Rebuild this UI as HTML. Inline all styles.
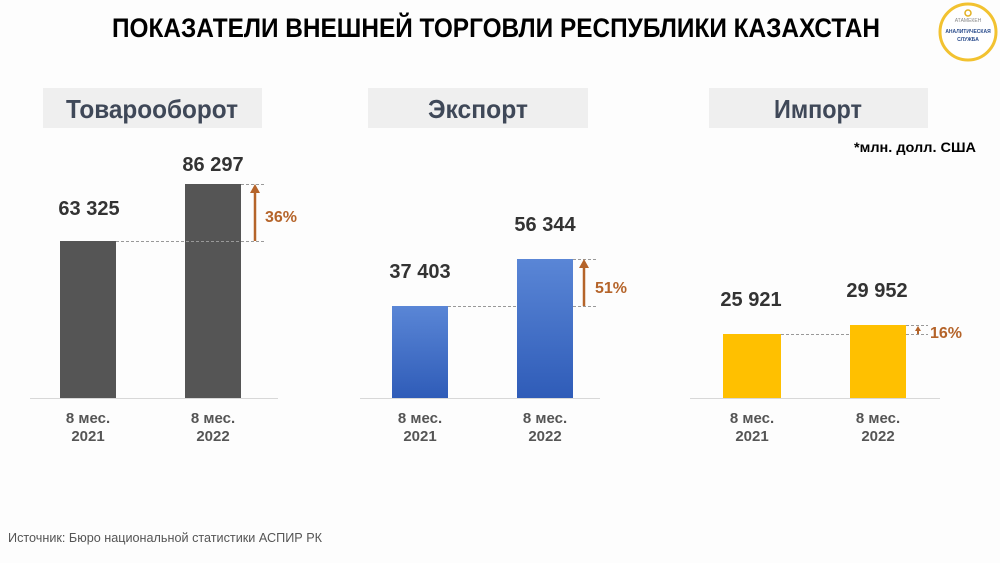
<!DOCTYPE html>
<html><head><meta charset="utf-8"><style>
html,body{margin:0;padding:0;background:#fdfdfd;}
svg{display:block;font-family:"Liberation Sans",Arial,sans-serif;}
</style></head><body>
<svg width="1000" height="563" viewBox="0 0 1000 563" xmlns="http://www.w3.org/2000/svg">
<defs>
<linearGradient id="bl" x1="0" y1="0" x2="0" y2="1"><stop offset="0" stop-color="#5a86d6"/><stop offset="1" stop-color="#2f5cb8"/></linearGradient>
</defs>
<rect width="1000" height="563" fill="#fdfdfd"/>
<text x="496" y="37" text-anchor="middle" font-size="27" font-weight="bold" fill="#000" textLength="768" lengthAdjust="spacingAndGlyphs">ПОКАЗАТЕЛИ ВНЕШНЕЙ ТОРГОВЛИ РЕСПУБЛИКИ КАЗАХСТАН</text>
<circle cx="968" cy="32" r="28" fill="#fff" stroke="#f2c230" stroke-width="3"/>
<circle cx="968" cy="13" r="3" fill="none" stroke="#e2b020" stroke-width="1.5"/>
<text x="968" y="22" text-anchor="middle" font-size="5" fill="#888">АТАМЕКЕН</text>
<text x="968" y="33" text-anchor="middle" font-size="5" font-weight="bold" fill="#2a4c8c">АНАЛИТИЧЕСКАЯ</text>
<text x="968" y="41" text-anchor="middle" font-size="5" font-weight="bold" fill="#2a4c8c">СЛУЖБА</text>

<rect x="43" y="88" width="219" height="40" fill="#efefef"/>
<rect x="368" y="88" width="220" height="40" fill="#efefef"/>
<rect x="709" y="88" width="219" height="40" fill="#efefef"/>
<g font-size="26" font-weight="bold" fill="#3f4858" text-anchor="middle">
<text x="152" y="118" textLength="172" lengthAdjust="spacingAndGlyphs">Товарооборот</text>
<text x="478" y="118" textLength="100" lengthAdjust="spacingAndGlyphs">Экспорт</text>
<text x="818" y="118" textLength="88" lengthAdjust="spacingAndGlyphs">Импорт</text>
</g>
<text x="976" y="152" text-anchor="end" font-size="14" font-weight="bold" fill="#000" textLength="122" lengthAdjust="spacingAndGlyphs">*млн. долл. США</text>

<g stroke="#d8d8d8" stroke-width="1"><line x1="30" y1="398.5" x2="278" y2="398.5"/><line x1="360" y1="398.5" x2="600" y2="398.5"/><line x1="690" y1="398.5" x2="940" y2="398.5"/></g>

<rect x="60" y="241" width="56" height="157" fill="#555555"/>
<rect x="185" y="184" width="56" height="214" fill="#555555"/>
<g stroke="#999" stroke-dasharray="3,2" stroke-width="1"><line x1="116" y1="241.5" x2="266" y2="241.5"/><line x1="241" y1="184.5" x2="266" y2="184.5"/>
<line x1="448" y1="306.5" x2="596" y2="306.5"/><line x1="573" y1="259.5" x2="596" y2="259.5"/>
<line x1="781" y1="334.5" x2="928" y2="334.5"/><line x1="906" y1="325.5" x2="928" y2="325.5"/></g>
<g stroke="#b5642a" stroke-width="2.5"><line x1="255" y1="241" x2="255" y2="192"/><line x1="584" y1="306" x2="584" y2="267"/></g>
<g fill="#b5642a"><polygon points="255,184 250,193 260,193"/><polygon points="584,259 579,268 589,268"/><polygon points="918,326 915,331 921,331"/></g>
<line x1="918" y1="330" x2="918" y2="334" stroke="#b5642a" stroke-width="2"/>
<g font-size="16" font-weight="bold" fill="#b5642a"><text x="265" y="222">36%</text><text x="595" y="293">51%</text><text x="930" y="338">16%</text></g>

<rect x="392" y="306" width="56" height="92" fill="url(#bl)"/>
<rect x="517" y="259" width="56" height="139" fill="url(#bl)"/>
<rect x="723" y="334" width="58" height="64" fill="#ffc000"/>
<rect x="850" y="325" width="56" height="73" fill="#ffc000"/>

<g font-size="20" font-weight="bold" fill="#333" text-anchor="middle">
<text x="89" y="215">63 325</text><text x="213" y="171">86 297</text>
<text x="420" y="278">37 403</text><text x="545" y="231">56 344</text>
<text x="751" y="306">25 921</text><text x="877" y="297">29 952</text>
</g>
<g font-size="15" font-weight="bold" fill="#555" text-anchor="middle">
<text x="88" y="423">8 мес.</text><text x="88" y="441">2021</text>
<text x="213" y="423">8 мес.</text><text x="213" y="441">2022</text>
<text x="420" y="423">8 мес.</text><text x="420" y="441">2021</text>
<text x="545" y="423">8 мес.</text><text x="545" y="441">2022</text>
<text x="752" y="423">8 мес.</text><text x="752" y="441">2021</text>
<text x="878" y="423">8 мес.</text><text x="878" y="441">2022</text>
</g>
<text x="8" y="542" font-size="13" fill="#555" textLength="314" lengthAdjust="spacingAndGlyphs">Источник:  Бюро национальной  статистики  АСПИР РК</text>
</svg>
</body></html>
